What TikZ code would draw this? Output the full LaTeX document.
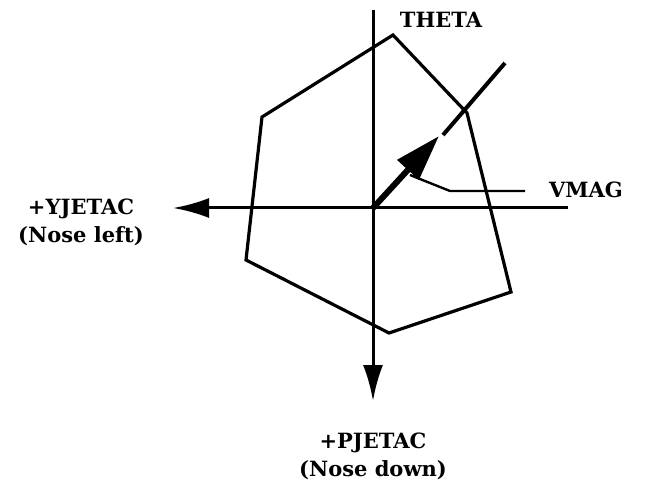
\documentclass[tikz,border=0pt]{standalone}
\usepackage{fontspec}
\setmainfont{DejaVu Serif}
\usetikzlibrary{arrows.meta}
\begin{document}
\begin{tikzpicture}[x=1pt,y=-1pt,
  axis/.style={line width=3pt,-{Latex[length=36pt,width=20pt]}},
  hexline/.style={line width=3.2pt,line join=miter},
  lbl/.style={font=\fontsize{21}{28}\selectfont\bfseries,inner sep=0pt,align=center},
  lead/.style={line width=2.4pt}]
\useasboundingbox (0,0) rectangle (649,484);
% points
\coordinate (vtop) at (373,10);
\coordinate (vbot) at (373,401);
\coordinate (hright) at (568,208);
\coordinate (hleft) at (173,208);
\coordinate (o) at (373,208);
\coordinate (h1) at (393,35);
\coordinate (h2) at (467,113);
\coordinate (h3) at (511,292);
\coordinate (h4) at (389,333);
\coordinate (h5) at (246,260);
\coordinate (h6) at (262,117);
\coordinate (t1) at (443,135);
\coordinate (t2) at (505,63);
\coordinate (vt) at (439,136);
\coordinate (l1) at (410,175);
\coordinate (l2) at (450,191);
\coordinate (l3) at (525,191);
% hexagon
\draw[hexline] (h1) -- (h2) -- (h3) -- (h4) -- (h5) -- (h6) -- cycle;
% axes
\draw[axis] (vtop) -- (vbot);
\draw[axis] (hright) -- (hleft);
% theta line
\draw[line width=4pt] (t1) -- (t2);
% velocity vector
\draw[line width=6pt,-{Triangle[length=46pt,width=28pt]}] (o) -- (vt);
% leader
\draw[lead] (l1) -- (l2) -- (l3);
% labels
\node[lbl] (theta) at (441,20) {THETA};
\node[lbl] (vmag) at (586,190) {VMAG};
\node[lbl] (yjet) at (81,222) {+YJETAC\\(Nose left)};
\node[lbl] (pjet) at (373,456) {+PJETAC\\(Nose down)};
\end{tikzpicture}
\end{document}
